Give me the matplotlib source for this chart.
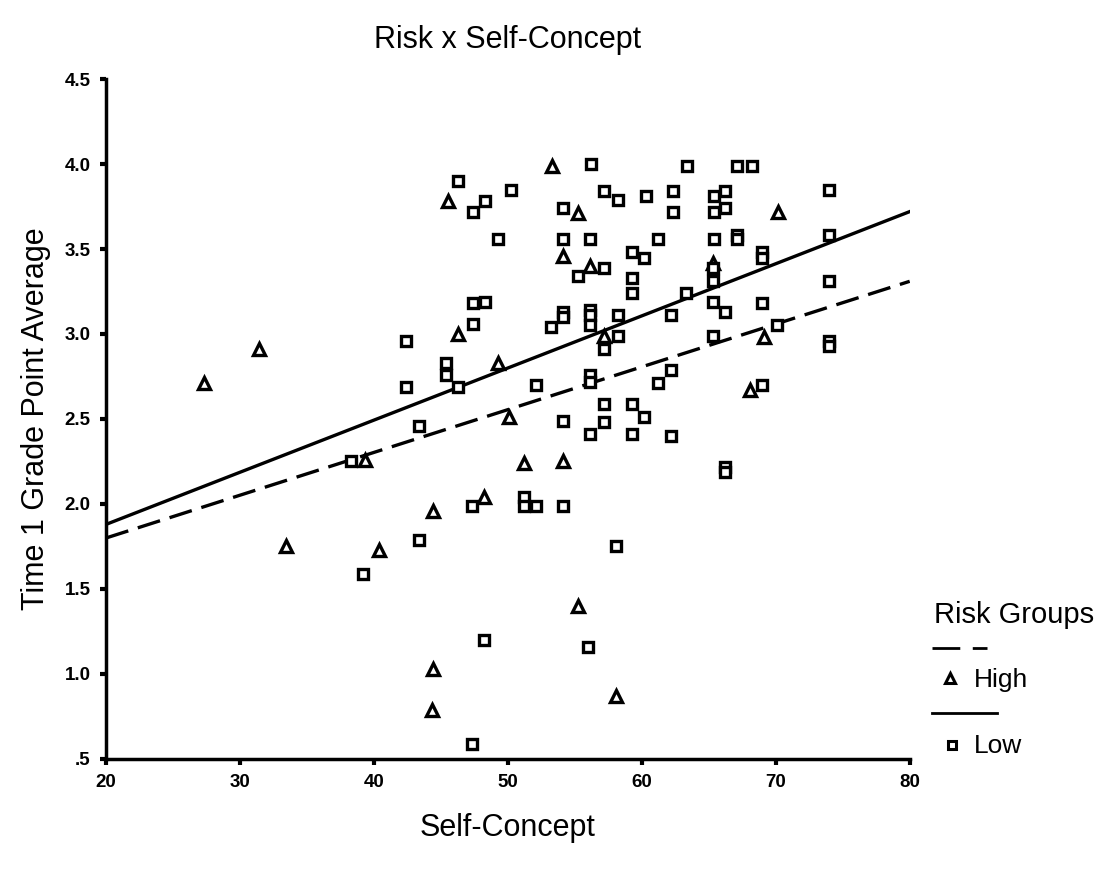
import matplotlib.pyplot as plt
from matplotlib.lines import Line2D
from matplotlib.ticker import FixedLocator

plt.rcParams['font.family'] = ['Liberation Sans', 'DejaVu Sans']

# high risk group (triangles)
high_x = [27.3, 31.4, 33.4, 40.4, 39.3, 53.3, 45.5, 55.2, 54.1, 56.1, 46.3, 57.2, 49.3,
          50.1, 51.2, 54.1, 44.4, 48.2, 55.2, 44.4, 58.1, 44.3, 70.2, 65.3, 69.1, 68.1]
high_y = [2.71, 2.91, 1.75, 1.73, 2.26, 3.99, 3.78, 3.71, 3.46, 3.40, 3.00, 2.99, 2.83,
          2.51, 2.24, 2.25, 1.96, 2.04, 1.40, 1.03, 0.87, 0.79, 3.72, 3.42, 2.98, 2.67]

# low risk group (squares)
low_x = [38.3, 39.2, 56.2, 46.3, 50.2, 48.3, 47.4, 57.2, 58.2, 60.3, 54.1,
         49.3, 54.1, 56.1, 61.2, 59.3, 60.2, 57.2, 55.2, 59.3, 59.3,
         47.4, 48.3, 54.1, 54.1, 56.1, 56.1, 56.1, 58.2, 53.2, 47.4, 42.4, 58.2, 57.2,
         45.4, 45.4, 42.4, 46.3, 52.1, 56.1, 56.1, 61.2,
         57.2, 59.3, 43.4, 54.1, 57.2, 60.2, 56.1, 59.3,
         47.3, 51.2, 51.2, 52.1, 54.1, 43.4, 58.1, 48.2, 56.0, 47.3,
         63.4, 67.1, 68.2, 62.3, 65.4, 66.2, 74.0, 62.3, 65.4, 66.2, 65.4, 67.1, 67.1,
         74.0, 69.0, 69.0, 65.3, 65.3, 74.0, 63.3, 65.3, 66.2, 69.0, 62.2, 70.1, 65.3,
         74.0, 74.0, 62.2, 69.0, 62.2, 66.2, 66.2]
low_y = [2.25, 1.59, 4.00, 3.90, 3.85, 3.78, 3.72, 3.84, 3.79, 3.81, 3.74,
         3.56, 3.56, 3.56, 3.56, 3.48, 3.45, 3.39, 3.34, 3.33, 3.24,
         3.18, 3.19, 3.13, 3.10, 3.14, 3.11, 3.05, 3.11, 3.04, 3.06, 2.96, 2.99, 2.91,
         2.83, 2.76, 2.69, 2.69, 2.70, 2.76, 2.72, 2.71,
         2.59, 2.59, 2.46, 2.49, 2.48, 2.51, 2.41, 2.41,
         1.99, 2.04, 1.99, 1.99, 1.99, 1.79, 1.75, 1.20, 1.16, 0.59,
         3.99, 3.99, 3.99, 3.84, 3.81, 3.84, 3.85, 3.72, 3.72, 3.74, 3.56, 3.58, 3.56,
         3.58, 3.48, 3.45, 3.39, 3.31, 3.31, 3.24, 3.19, 3.13, 3.18, 3.11, 3.05, 2.99,
         2.96, 2.93, 2.79, 2.70, 2.40, 2.22, 2.19]

# fitted lines
fit_x = [20, 80]
fit_high = [1.80, 3.31]
fit_low = [1.88, 3.72]

x_ticks = [20, 30, 40, 50, 60, 70, 80]
y_ticks = [0.5, 1.0, 1.5, 2.0, 2.5, 3.0, 3.5, 4.0, 4.5]
y_tick_labels = ['.5', '1.0', '1.5', '2.0', '2.5', '3.0', '3.5', '4.0', '4.5']

fig = plt.figure(figsize=(11, 8.75), dpi=100)
ax = fig.add_axes([0.0964, 0.1326, 0.7306, 0.7771])

ax.plot(fit_x, fit_high, color='k', lw=2.4, ls=(0, (7, 3)))
ax.plot(fit_x, fit_low, color='k', lw=2.4)
ax.plot(high_x, high_y, ls='none', marker='^', ms=8.5, mfc='white', mec='k', mew=2.4)
ax.plot(low_x, low_y, ls='none', marker='s', ms=6.5, mfc='white', mec='k', mew=2.4)

ax.set_xlim(20, 80)
ax.set_ylim(0.5, 4.5)
ax.xaxis.set_major_locator(FixedLocator(x_ticks))
ax.set_yticks(y_ticks)
ax.set_yticklabels(y_tick_labels)
for side in ['top', 'right']:
    ax.spines[side].set_visible(False)
for side in ['left', 'bottom']:
    ax.spines[side].set_linewidth(2.5)
ax.tick_params(length=4, width=3, labelsize=13.5, pad=7)
for lab in ax.get_xticklabels() + ax.get_yticklabels():
    lab.set_fontweight('bold')

ax.set_title('Risk x Self-Concept', fontsize=22, pad=22)
ax.set_xlabel('Self-Concept', fontsize=22, labelpad=16)
ax.set_ylabel('Time 1 Grade Point Average', fontsize=22, labelpad=10)

# legend drawn in figure pixels: rows of line sample, then marker + label
W, H = 1100.0, 875.0
def fx(px):
    return px / W
def fy(py):
    return 1 - py / H

fig.text(fx(934), fy(615), 'Risk Groups', fontsize=21, va='center', ha='left')
fig.add_artist(Line2D([fx(932), fx(987)], [fy(648), fy(648)], transform=fig.transFigure,
                      color='k', lw=2, ls=(0, (10, 4.5))))
fig.add_artist(Line2D([fx(950)], [fy(678)], transform=fig.transFigure, ls='none',
                      marker='^', ms=7, mfc='white', mec='k', mew=2.2))
fig.text(fx(974), fy(680), 'High', fontsize=19, va='center', ha='left')
fig.add_artist(Line2D([fx(932), fx(997)], [fy(713), fy(713)], transform=fig.transFigure,
                      color='k', lw=2))
fig.add_artist(Line2D([fx(952)], [fy(745)], transform=fig.transFigure, ls='none',
                      marker='s', ms=5.5, mfc='white', mec='k', mew=2.2))
fig.text(fx(974), fy(746), 'Low', fontsize=19, va='center', ha='left')

fig.savefig('out.png', dpi=100)
